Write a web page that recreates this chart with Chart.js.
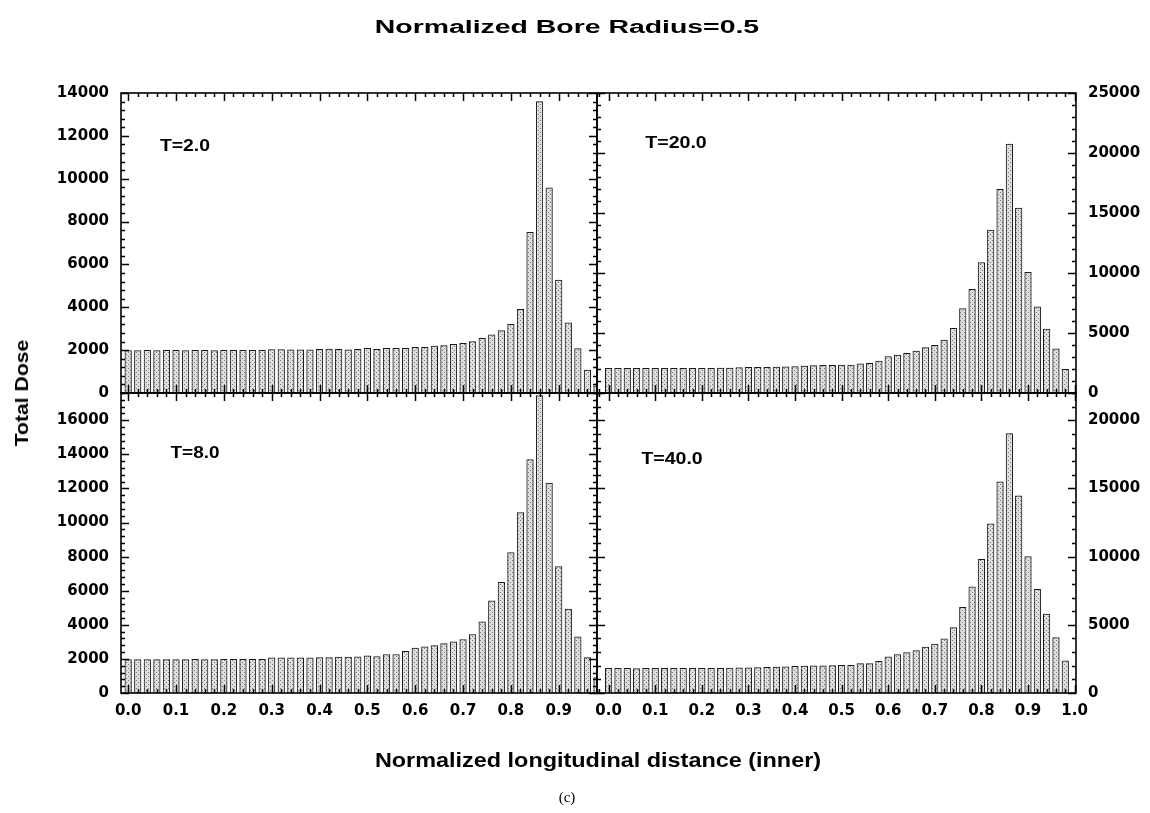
<!DOCTYPE html>
<html>
<head>
<meta charset="utf-8">
<script src="https://cdn.jsdelivr.net/npm/chart.js@4.4.0/dist/chart.umd.min.js"></script>
<style>
  body { margin: 0; background: #fff; width: 1150px; height: 813px; position: relative; overflow: hidden; }
  canvas { position: absolute; left: 0; top: 0; }
  .t { position: absolute; font-family: "Liberation Sans", Arial, sans-serif; font-weight: bold; color: #000; white-space: nowrap; line-height: 1; }
</style>
</head>
<body>
<canvas id="pTL" width="1150" height="813"></canvas>
<canvas id="pTR" width="1150" height="813"></canvas>
<canvas id="pBL" width="1150" height="813"></canvas>
<canvas id="pBR" width="1150" height="813"></canvas>

<div class="t" data-w="385" style="left:567px;top:27px;font-size:18px">Normalized Bore Radius=0.5</div>
<div class="t" data-w="107" data-rot="1" style="left:22px;top:393px;font-size:18px">Total Dose</div>
<div class="t" data-w="446" style="left:598px;top:760px;font-size:20px">Normalized longitudinal distance (inner)</div>
<div class="t" style="left:567px;top:797px;font-size:15px;font-weight:normal;font-family:'Liberation Serif',serif">(c)</div>
<div class="t" data-w="50" style="left:185px;top:145px;font-size:17px">T=2.0</div>
<div class="t" data-w="61" style="left:676px;top:142px;font-size:17px">T=20.0</div>
<div class="t" data-w="49" style="left:195px;top:452px;font-size:17px">T=8.0</div>
<div class="t" data-w="61" style="left:672px;top:458px;font-size:17px">T=40.0</div>

<script>
// bin positions (normalized longitudinal distance)
const xPos = [0.00, 0.02, 0.04, 0.06, 0.08, 0.10, 0.12, 0.14, 0.16, 0.18,
              0.20, 0.22, 0.24, 0.26, 0.28, 0.30, 0.32, 0.34, 0.36, 0.38,
              0.40, 0.42, 0.44, 0.46, 0.48, 0.50, 0.52, 0.54, 0.56, 0.58,
              0.60, 0.62, 0.64, 0.66, 0.68, 0.70, 0.72, 0.74, 0.76, 0.78,
              0.80, 0.82, 0.84, 0.86, 0.88, 0.90, 0.92, 0.94, 0.96, 0.98];

const doseT2 = [1980, 1980, 1990, 1980, 1990, 1990, 1980, 1990, 1990, 1980,
                1990, 1990, 1990, 1990, 1990, 2030, 2030, 2020, 2020, 2020,
                2040, 2050, 2040, 2010, 2040, 2080, 2040, 2080, 2080, 2080,
                2130, 2130, 2190, 2210, 2270, 2320, 2400, 2550, 2710, 2910,
                3200, 3900, 7500, 13600, 9580, 5270, 3270, 2070, 1070, 330];

const doseT20 = [2060, 2060, 2050, 2060, 2060, 2050, 2060, 2060, 2060, 2050,
                 2060, 2060, 2070, 2070, 2110, 2140, 2140, 2140, 2170, 2190,
                 2200, 2250, 2280, 2300, 2310, 2330, 2330, 2440, 2470, 2670,
                 3030, 3170, 3310, 3500, 3780, 3970, 4420, 5390, 7030, 8640,
                 10860, 13580, 16970, 20750, 15420, 10060, 7190, 5330, 3690, 1970];

const doseT8 = [1960, 1960, 1960, 1960, 1960, 1960, 1960, 1970, 1960, 1960,
                1970, 1970, 1970, 1970, 1970, 2060, 2060, 2060, 2060, 2070,
                2080, 2080, 2100, 2100, 2120, 2180, 2140, 2260, 2260, 2450,
                2630, 2710, 2780, 2900, 3000, 3140, 3430, 4180, 5410, 6490,
                8240, 10590, 13690, 17450, 12320, 7410, 4920, 3290, 2080, 900];

const doseT40 = [1800, 1800, 1800, 1790, 1800, 1800, 1800, 1800, 1810, 1800,
                 1800, 1810, 1810, 1820, 1840, 1850, 1870, 1890, 1900, 1920,
                 1950, 1970, 1990, 2000, 2010, 2030, 2030, 2160, 2160, 2330,
                 2650, 2820, 2970, 3110, 3360, 3580, 3970, 4800, 6280, 7790,
                 9800, 12400, 15490, 19020, 14460, 10000, 7600, 5780, 4070, 2350];

const xTicksLeft  = [0.0, 0.1, 0.2, 0.3, 0.4, 0.5, 0.6, 0.7, 0.8, 0.9];
const xTicksRight = [0.0, 0.1, 0.2, 0.3, 0.4, 0.5, 0.6, 0.7, 0.8, 0.9, 1.0];
const yTicksT2  = [0, 2000, 4000, 6000, 8000, 10000, 12000, 14000];
const yTicksT8  = [0, 2000, 4000, 6000, 8000, 10000, 12000, 14000, 16000];
const yTicksT20 = [0, 5000, 10000, 15000, 20000, 25000];
const yTicksT40 = [0, 5000, 10000, 15000, 20000];

// stippled grey fill like the scanned bars
function stipple() {
  const c = document.createElement('canvas');
  c.width = 4; c.height = 4;
  const g = c.getContext('2d');
  g.fillStyle = '#dedede';
  g.fillRect(0, 0, 4, 4);
  g.fillStyle = '#7a7a7a';
  g.fillRect(0, 0, 1, 1);
  g.fillRect(2, 2, 1, 1);
  return g.createPattern(c, 'repeat');
}
const fill = stipple();

// box frame plus inward major/minor ticks on all four sides
const frameTicks = {
  id: 'frameTicks',
  afterDraw(chart, args, opts) {
    const { ctx, chartArea: a, scales } = chart;
    const xs = scales.x, ys = scales.y;
    ctx.save();
    ctx.strokeStyle = '#000';
    ctx.lineWidth = 1.6;
    ctx.strokeRect(a.left, a.top, a.right - a.left, a.bottom - a.top);
    ctx.lineWidth = 1.5;
    ctx.beginPath();
    for (let k = Math.ceil(xs.min / opts.xStep - 1e-9); k * opts.xStep <= xs.max + 1e-9; k++) {
      const p = Math.round(xs.getPixelForValue(k * opts.xStep)) + 0.5;
      const len = k % opts.xEvery === 0 ? 8 : 4;
      ctx.moveTo(p, a.bottom); ctx.lineTo(p, a.bottom - len);
      ctx.moveTo(p, a.top); ctx.lineTo(p, a.top + len);
    }
    for (let k = 0; k * opts.yStep <= ys.max + 1e-9; k++) {
      const p = Math.round(ys.getPixelForValue(k * opts.yStep)) + 0.5;
      const len = k % opts.yEvery === 0 ? 8 : 4;
      ctx.moveTo(a.left, p); ctx.lineTo(a.left + len, p);
      ctx.moveTo(a.right, p); ctx.lineTo(a.right - len, p);
    }
    ctx.stroke();
    ctx.restore();
  }
};

const tickFont = { family: 'DejaVu Sans', weight: 'bold', size: 15 };

function makePanel(id, values, o) {
  new Chart(document.getElementById(id), {
    type: 'bar',
    data: {
      datasets: [{
        data: xPos.map((x, i) => ({ x: x, y: values[i] })),
        backgroundColor: fill,
        borderColor: '#1a1a1a',
        borderWidth: 1,
        barThickness: 6.6
      }]
    },
    options: {
      responsive: false,
      animation: false,
      devicePixelRatio: 1,
      layout: { padding: { left: o.padL, right: o.padR, top: o.top, bottom: 0 } },
      plugins: {
        legend: { display: false },
        tooltip: { enabled: false },
        frameTicks: { xStep: 0.02, xEvery: 5, yStep: o.yStep, yEvery: 5 }
      },
      scales: {
        x: {
          type: 'linear',
          offset: false,
          min: o.xMin,
          max: o.xMax,
          grid: { display: false, drawTicks: false },
          border: { display: false },
          afterBuildTicks: s => { s.ticks = o.xTicks.map(v => ({ value: v })); },
          afterFit: s => { s.height = 813 - o.bottom; },
          ticks: {
            display: o.showX,
            padding: 9,
            color: '#000',
            font: tickFont,
            autoSkip: false,
            maxRotation: 0,
            callback: v => Number(v).toFixed(1)
          }
        },
        y: {
          position: o.side,
          min: 0,
          max: o.yMax,
          grid: { display: false, drawTicks: false },
          border: { display: false },
          afterBuildTicks: s => { s.ticks = o.yTicks.map(v => ({ value: v })); },
          afterFit: s => { s.width = o.yW; },
          ticks: { padding: 12, color: '#000', font: tickFont, callback: v => String(v) }
        }
      }
    },
    plugins: [frameTicks]
  });
}

makePanel('pTL', doseT2, { padL: 0, padR: 553, top: 93, bottom: 393, side: 'left', yW: 121,
  xMin: -0.015, xMax: 0.98, xTicks: xTicksLeft, showX: false, yMax: 14000, yTicks: yTicksT2, yStep: 400 });
makePanel('pTR', doseT20, { padL: 597, padR: 0, top: 93, bottom: 393, side: 'right', yW: 74,
  xMin: -0.025, xMax: 1.003, xTicks: xTicksRight, showX: false, yMax: 25000, yTicks: yTicksT20, yStep: 1000 });
makePanel('pBL', doseT8, { padL: 0, padR: 553, top: 393, bottom: 693, side: 'left', yW: 121,
  xMin: -0.015, xMax: 0.98, xTicks: xTicksLeft, showX: true, yMax: 17600, yTicks: yTicksT8, yStep: 400 });
makePanel('pBR', doseT40, { padL: 597, padR: 0, top: 393, bottom: 693, side: 'right', yW: 74,
  xMin: -0.025, xMax: 1.003, xTicks: xTicksRight, showX: true, yMax: 22000, yTicks: yTicksT40, yStep: 1000 });

// stretch the html labels to the widths measured on the reference
document.querySelectorAll('.t').forEach(el => {
  const w = Number(el.dataset.w);
  const k = w ? w / el.offsetWidth : 1;
  const rot = el.dataset.rot ? ' rotate(-90deg)' : '';
  el.style.transform = 'translate(-50%,-50%)' + rot + ' scaleX(' + k + ')';
});
</script>
</body>
</html>
